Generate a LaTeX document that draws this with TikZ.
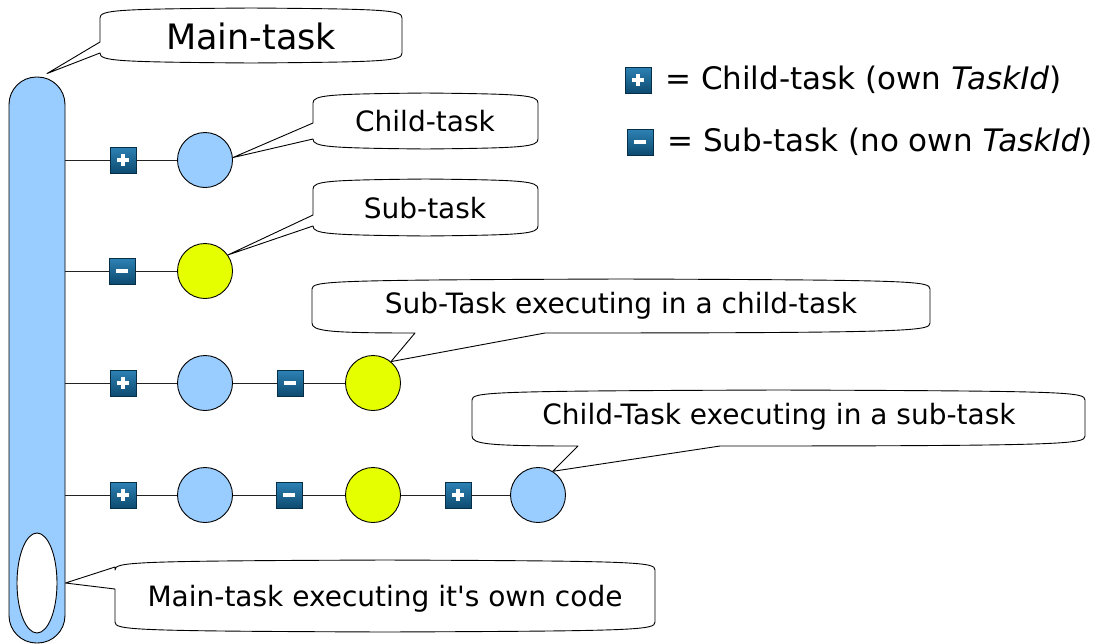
\documentclass[tikz,border=0pt]{standalone}
\usepackage{fontspec}
\setmainfont{DejaVu Sans}
\usetikzlibrary{shapes.geometric}
\definecolor{lblue}{HTML}{99CCFF}
\definecolor{lyellow}{HTML}{E6FF00}
\definecolor{iconhi}{HTML}{2D82B5}
\definecolor{iconlo}{HTML}{0D4B70}
\definecolor{iconedge}{HTML}{062F47}
\definecolor{linec}{HTML}{222222}
% callout with pointer on the left side: x1 y1 x2 y2 pa pb tip
\newcommand\bubleft[7]{\draw[bub] (#1,#2+10) .. controls (#1,#2+2) and (#1+15,#2+1) .. ({(#1+#3)/2},#2) .. controls (#3-15,#2+1) and (#3,#2+2) .. (#3,#2+10) -- (#3,#4-10) .. controls (#3,#4-2) and (#3-15,#4-1) .. ({(#1+#3)/2},#4) .. controls (#1+15,#4-1) and (#1,#4-2) .. (#1,#4-10) -- (#1,#6) -- #7 -- (#1,#5) -- cycle;}
% callout with pointer on the bottom side: x1 y1 x2 y2 xa xb tip
\newcommand\bubbottom[7]{\draw[bub] (#1,#2+10) .. controls (#1,#2+2) and (#1+15,#2+1) .. ({(#1+#3)/2},#2) .. controls (#3-15,#2+1) and (#3,#2+2) .. (#3,#2+10) -- (#3,#4-10) .. controls (#3,#4-2) and (#3-15,#4) .. (#6,#4) -- #7 -- (#5,#4) .. controls (#1+15,#4) and (#1,#4-2) .. (#1,#4-10) -- cycle;}
\begin{document}
\begin{tikzpicture}[x=1pt,y=-1pt,
  bub/.style={draw=black, fill=white, line width=0.9pt, line join=round},
  task/.style={circle, draw=black, line width=0.9pt, minimum size=55pt, inner sep=0pt},
  ctask/.style={task, fill=lblue},
  stask/.style={task, fill=lyellow},
  icon/.style={rectangle, draw=iconedge, line width=0.8pt, top color=iconhi, bottom color=iconlo, minimum size=26pt, inner sep=0pt},
  plusicon/.style={icon, path picture={
    \fill[white] ([xshift=-6pt,yshift=-1.8pt]path picture bounding box.center) rectangle ([xshift=6pt,yshift=1.8pt]path picture bounding box.center);
    \fill[white] ([xshift=-1.8pt,yshift=-6pt]path picture bounding box.center) rectangle ([xshift=1.8pt,yshift=6pt]path picture bounding box.center);}},
  minusicon/.style={icon, path picture={
    \fill[white] ([xshift=-6pt,yshift=-1.8pt]path picture bounding box.center) rectangle ([xshift=6pt,yshift=1.8pt]path picture bounding box.center);}},
  conn/.style={draw=linec, line width=1pt},
  txt/.style={inner sep=0pt, anchor=base, font=\fontsize{28}{33}\selectfont},
  legtxt/.style={inner sep=0pt, anchor=base west, font=\fontsize{31}{36}\selectfont}]
\useasboundingbox (0,0) rectangle (1102,643);

% main task pillar
\node[draw=black, fill=lblue, line width=0.9pt, rounded corners=27.5pt, minimum width=56pt, minimum height=566pt, inner sep=0pt] (pillar) at (37,360) {};
\node[ellipse, draw=black, fill=white, line width=0.9pt, minimum width=40pt, minimum height=100pt, inner sep=0pt] (own) at (37,583) {};

% row 1
\node[plusicon] (p1) at (123,160) {};
\node[ctask] (c1) at (205,160) {};
\draw[conn] (pillar.east |- p1) -- (p1) (p1) -- (c1);
% row 2
\node[minusicon] (m2) at (122,271) {};
\node[stask] (s2) at (205,271) {};
\draw[conn] (pillar.east |- m2) -- (m2) (m2) -- (s2);
% row 3
\node[plusicon] (p3) at (123,383) {};
\node[ctask] (c3) at (205,383) {};
\node[minusicon] (m3) at (290,383) {};
\node[stask] (s3) at (373,383) {};
\draw[conn] (pillar.east |- p3) -- (p3) (p3) -- (c3) (c3) -- (m3) (m3) -- (s3);
% row 4
\node[plusicon] (p4) at (123,495) {};
\node[ctask] (c4) at (205,495) {};
\node[minusicon] (m4) at (289,495) {};
\node[stask] (s4) at (373,495) {};
\node[plusicon] (p4b) at (458,495) {};
\node[ctask] (c4b) at (538,495) {};
\draw[conn] (pillar.east |- p4) -- (p4) (p4) -- (c4) (c4) -- (m4) (m4) -- (s4) (s4) -- (p4b) (p4b) -- (c4b);

% callouts
\bubleft{100}{8}{402}{63}{42}{53}{([xshift=10pt,yshift=3pt]pillar.north)}
\node[txt, font=\fontsize{35}{40}\selectfont] (tmain) at (251,49) {Main-task};
\bubleft{313}{93}{538}{149}{123}{139}{(c1.5)}
\node[txt] (tchild) at (425,131) {Child-task};
\bubleft{313}{179}{538}{236}{215}{226}{(s2.35)}
\node[txt] (tsub) at (425,218) {Sub-task};
\bubbottom{312}{279}{930}{333}{415}{545}{(s3.50)}
\node[txt] (tsubexec) at (621,313) {Sub-Task executing in a child-task};
\bubbottom{472}{390}{1085}{446}{578}{720}{(c4b.58)}
\node[txt] (tchildexec) at (779,424) {Child-Task executing in a sub-task};
\bubleft{115}{560}{655}{632}{567}{589}{(pillar.east |- own)}
\node[txt] (tmainexec) at (385,606) {Main-task executing it\textquotesingle s own code};

% legend
\node[plusicon] (lp) at (638,80) {};
\node[legtxt] (lpt) at (665,89) {= Child-task (own \textit{TaskId})};
\node[minusicon] (lm) at (640,142) {};
\node[legtxt] (lmt) at (667,151) {= Sub-task (no own \textit{TaskId})};
\end{tikzpicture}
\end{document}
